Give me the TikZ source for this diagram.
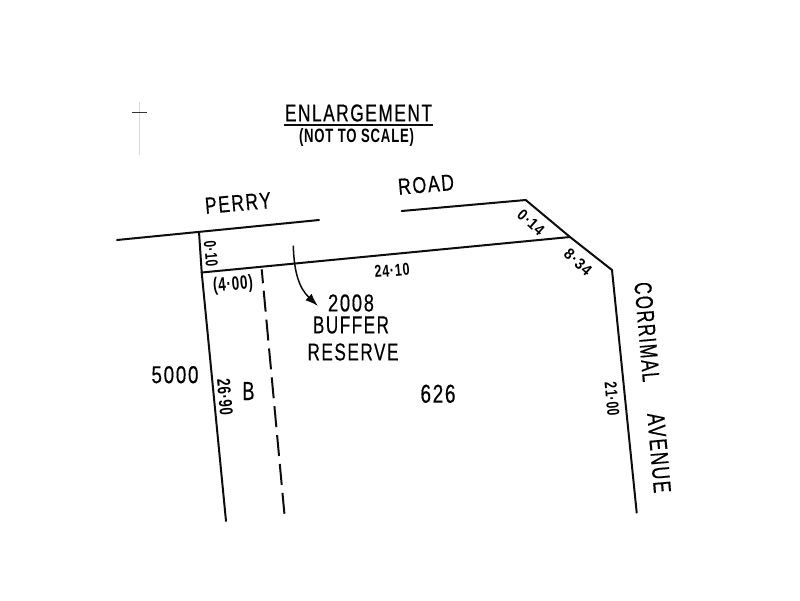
\documentclass[tikz,border=0pt]{standalone}
\usepackage{fontspec}
\usepackage{graphicx}
\setmainfont{Liberation Sans}
\newfontfamily\planfont[LetterSpace=9,FakeBold=0.5]{Liberation Sans}
\newfontfamily\dimfont[LetterSpace=6]{Liberation Sans}
\usetikzlibrary{arrows.meta}
\newcommand{\fitlbl}[3]{\resizebox{#1pt}{#2pt}{\planfont #3}}
\newcommand{\fitdim}[3]{\resizebox{#1pt}{#2pt}{\dimfont\bfseries #3}}
\tikzset{
  boundary/.style={line width=2pt,color=black!95,line cap=round,line join=miter},
  lbl/.style={inner sep=0pt,outer sep=0pt,text=black,anchor=center},
  buffer/.style={line width=2pt,color=black!95,dash pattern=on 14pt off 7.5pt on 21pt off 8pt on 21pt off 8pt on 21pt off 8pt on 21pt off 8pt on 21pt off 8pt on 21pt off 8pt on 21pt off 8pt on 21pt off 8pt},
}
\begin{document}
\begin{tikzpicture}[x=1pt,y=-1pt]
\useasboundingbox[fill=white] (0,0) rectangle (800,600);
% survey mark
\coordinate (markL) at (132,112); \coordinate (markR) at (147,112);
\coordinate (markT) at (139,102); \coordinate (markB) at (139,155);
\draw[line width=0.7pt,black!15] (markT) -- (markB);
\draw[line width=1pt,black!80] (markL) -- (markR);
% title
\node[lbl] (title) at (358.5,113) {\fitlbl{147}{17}{ENLARGEMENT}};
\coordinate (ulL) at (284,124.7); \coordinate (ulR) at (433,124.7);
\draw[line width=1.6pt,black!95] (ulL) -- (ulR);
\node[lbl] (nts) at (356.5,138) {\fitdim{115}{14}{(NOT TO SCALE)}};
% boundary coordinates
\coordinate (perryW) at (117,240); \coordinate (perryE) at (319,220);
\coordinate (leftT) at (199,232); \coordinate (leftJ) at (201.7,272.5); \coordinate (leftB) at (226,521);
\coordinate (roadW) at (401.7,211); \coordinate (roadE) at (525.7,200);
\coordinate (chamfJ) at (570,237); \coordinate (corner) at (612,270); \coordinate (avB) at (636.7,512.7);
\coordinate (dashT) at (261.7,269.3); \coordinate (dashB) at (284.7,517);
\draw[boundary] (perryW) -- (perryE);
\draw[boundary] (leftT) -- (leftJ) -- (leftB);
\draw[boundary] (leftJ) -- (chamfJ);
\draw[boundary] (roadW) -- (roadE) -- (chamfJ) -- (corner) -- (avB);
\draw[buffer] (dashT) -- (dashB);
% leader arrow
\coordinate (arrS) at (293.3,245.7); \coordinate (arrE) at (318,306);
\draw[line width=1.5pt,black!95,-{Latex[length=13pt,width=9pt]}] (arrS) .. controls (294,272) and (299,288) .. (arrE);
% labels
\node[lbl,rotate=5] (perry) at (238,203) {\fitlbl{66}{16}{PERRY}};
\node[lbl,rotate=5] (road) at (426,184.5) {\fitlbl{56}{16}{ROAD}};
\node[lbl,rotate=5] (d2410) at (392,270.5) {\fitdim{35}{12}{24·10}};
\node[lbl,rotate=-85] (d010) at (211,253.5) {\fitdim{26}{12}{0·10}};
\node[lbl,rotate=5] (d400) at (233,285) {\fitdim{40}{14}{(4·00)}};
\node[lbl,rotate=-42] (d014) at (531,222.5) {\fitdim{30}{11}{0·14}};
\node[lbl,rotate=-42] (d834) at (578,262) {\fitdim{31}{11}{8·34}};
\node[lbl,rotate=-85] (d2100) at (612,399) {\fitdim{34}{12}{21·00}};
\node[lbl,rotate=-85] (d2690) at (225,397) {\fitdim{37}{13}{26·90}};
\node[lbl,rotate=-85] (corrimal) at (647,332) {\fitlbl{100}{17}{CORRIMAL}};
\node[lbl,rotate=-85] (avenue) at (659,453) {\fitlbl{80}{17}{AVENUE}};
\node[lbl] (b) at (248.5,391) {\fitlbl{12}{18}{B}};
\node[lbl] (n5000) at (175,374.7) {\fitlbl{47}{17}{5000}};
\node[lbl] (n2008) at (351,303) {\fitlbl{46}{17}{2008}};
\node[lbl] (buf) at (351,325) {\fitlbl{76}{17}{BUFFER}};
\node[lbl] (res) at (353,352) {\fitlbl{91}{17}{RESERVE}};
\node[lbl] (n626) at (438,393.8) {\fitlbl{35}{18}{626}};
\end{tikzpicture}
\end{document}
